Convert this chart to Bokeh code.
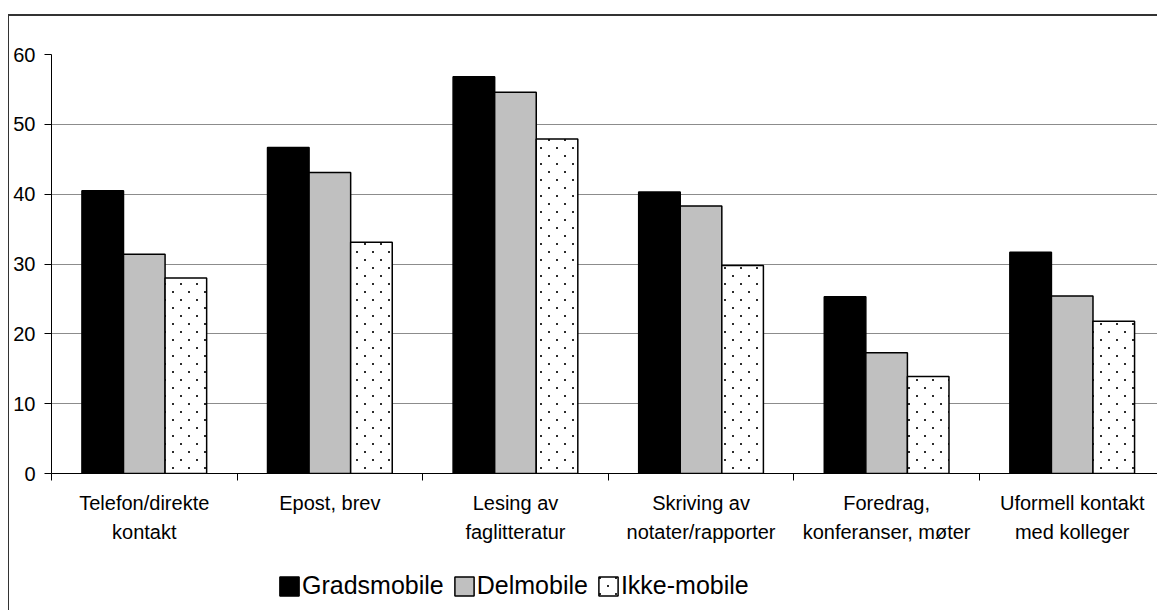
import zlib, struct, base64
from bokeh.plotting import figure
from bokeh.layouts import column
from bokeh.core.properties import value
from bokeh.models import (Range1d, FixedTicker, Legend, LegendItem, ColumnDataSource,
                          ImageURLTexture)
from bokeh.embed import file_html
from bokeh.resources import INLINE

categories = ["Telefon/direkte\nkontakt", "Epost, brev", "Lesing av\nfaglitteratur",
              "Skriving av\nnotater/rapporter", "Foredrag,\nkonferanser, møter",
              "Uformell kontakt\nmed kolleger"]
series = ["Gradsmobile", "Delmobile", "Ikke-mobile"]
gradsmobile = [40.5, 46.7, 56.8, 40.3, 25.3, 31.7]
delmobile = [31.4, 43.1, 54.6, 38.3, 17.3, 25.4]
ikke_mobile = [28.0, 33.1, 47.9, 29.8, 13.9, 21.8]
y_ticks = [0, 10, 20, 30, 40, 50, 60]

FONT = "Liberation Sans"
n = len(categories)
bar_w = 0.224
offsets = [-bar_w, 0.0, bar_w]


def dot_tile_png(size=16):
    # staggered dot texture tile (transparent background, small dark dots)
    px = [[(0, 0, 0, 0)] * size for _ in range(size)]
    for cx, cy in [(4, 4), (12, 12)]:
        for yy in (cy - 1, cy):
            for xx in (cx - 1, cx):
                px[yy][xx] = (45, 45, 45, 255)
    raw = b"".join(b"\x00" + b"".join(bytes(c) for c in row) for row in px)

    def chunk(t, d):
        return struct.pack(">I", len(d)) + t + d + struct.pack(">I", zlib.crc32(t + d) & 0xffffffff)
    data = (b"\x89PNG\r\n\x1a\n" + chunk(b"IHDR", struct.pack(">IIBBBBB", size, size, 8, 6, 0, 0, 0))
            + chunk(b"IDAT", zlib.compress(raw)) + chunk(b"IEND", b""))
    return "data:image/png;base64," + base64.b64encode(data).decode()


dots = ImageURLTexture(url=dot_tile_png())

p = figure(width=1149, height=539, output_backend="svg", toolbar_location=None,
           x_range=Range1d(0, 5.965), y_range=Range1d(0, 60),
           min_border_left=42, min_border_top=38, min_border_bottom=82, min_border_right=0,
           margin=(14, 0, 0, 8))
p.styles = {"border-left": "1.5px solid #333333", "border-top": "2px solid #333333"}
p.outline_line_color = None
p.background_fill_color = "white"
p.border_fill_color = "white"

styles = [
    dict(fill_color="black", line_color="black"),
    dict(fill_color="#c0c0c0", line_color="black"),
    dict(fill_color="white", line_color="black", hatch_pattern=value("dots"),
         hatch_extra={"dots": dots}),
]
for vals, off, st in zip([gradsmobile, delmobile, ikke_mobile], offsets, styles):
    src = ColumnDataSource(dict(x=[i + 0.5 + off for i in range(n)], top=vals))
    p.vbar(x="x", top="top", bottom=0, width=bar_w, source=src, line_width=1.5, **st)

# y axis
p.yaxis.ticker = FixedTicker(ticks=y_ticks)
p.yaxis.axis_line_color = "black"
p.yaxis.major_tick_out = 7
p.yaxis.major_tick_in = 0
p.yaxis.minor_tick_line_color = None
p.yaxis.major_label_text_font = FONT
p.yaxis.major_label_text_font_size = "20px"
p.yaxis.major_label_text_color = "black"
p.yaxis.major_label_standoff = 9

# x axis
p.xaxis.ticker = FixedTicker(ticks=[i + 0.5 for i in range(n)], minor_ticks=list(range(n + 1)))
p.xaxis.major_label_overrides = {i + 0.5: c for i, c in enumerate(categories)}
p.xaxis.axis_line_color = "black"
p.xaxis.major_tick_out = 0
p.xaxis.major_tick_in = 0
p.xaxis.minor_tick_out = 7
p.xaxis.minor_tick_in = 0
p.xaxis.minor_tick_line_color = "black"
p.xaxis.major_label_text_font = FONT
p.xaxis.major_label_text_font_size = "20px"
p.xaxis.major_label_text_color = "black"
p.xaxis.major_label_text_line_height = 1.32
p.xaxis.major_label_standoff = 11

p.xgrid.grid_line_color = None
p.ygrid.ticker = FixedTicker(ticks=y_ticks)
p.ygrid.grid_line_color = "#8c8c8c"
p.ygrid.grid_line_width = 1

# legend strip below the chart; its proxy renderers hold NaN so they draw nothing
p2 = figure(width=1149, height=57, output_backend="svg", toolbar_location=None,
            x_range=Range1d(0, 1), y_range=Range1d(0, 1),
            x_axis_type=None, y_axis_type=None, min_border=0, margin=(0, 0, 0, 8))
p2.styles = {"border-left": "1.5px solid #333333"}
p2.outline_line_color = None
p2.xgrid.grid_line_color = None
p2.ygrid.grid_line_color = None
legend_renderers = []
for st in styles:
    proxy = ColumnDataSource(dict(x=[float("nan")], top=[float("nan")]))
    r = p2.vbar(x="x", top="top", bottom=0, width=bar_w, source=proxy, line_width=1.5, **st)
    legend_renderers.append(r)

legend = Legend(items=[LegendItem(label=s, renderers=[r]) for s, r in zip(series, legend_renderers)],
                location=(226, 10), orientation="horizontal",
                glyph_width=24, glyph_height=24, label_standoff=1, spacing=8,
                padding=0, margin=0, border_line_color=None, background_fill_alpha=0,
                label_text_font=FONT, label_text_font_size="25px", label_text_color="black")
p2.add_layout(legend)

layout = column(p, p2, spacing=0)
open("out.html", "w").write(file_html(layout, INLINE))
